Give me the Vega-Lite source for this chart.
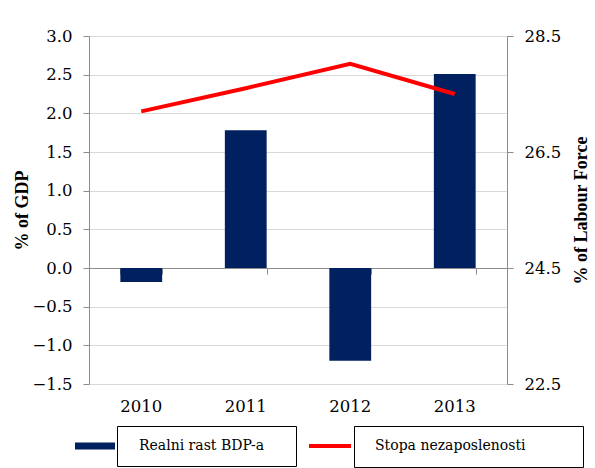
{
  "$schema": "https://vega.github.io/schema/vega-lite/v6.json",
  "width": 418,
  "height": 348,
  "autosize": {"type": "none"},
  "padding": {"left": 89, "top": 36, "right": 88, "bottom": 84},
  "background": "white",
  "config": {
    "view": {"stroke": null},
    "axis": {"labelColor": "#000", "titleColor": "#000"}
  },
  "data": {
    "values": [
      {"year": "2010", "gdp": -0.18, "unemp": 27.2},
      {"year": "2011", "gdp": 1.78, "unemp": 27.6},
      {"year": "2012", "gdp": -1.2, "unemp": 28.02},
      {"year": "2013", "gdp": 2.51, "unemp": 27.5}
    ]
  },
  "layer": [
    {
      "mark": {"type": "bar", "color": "#002060"},
      "encoding": {
        "x": {
          "field": "year", "type": "ordinal",
          "scale": {"paddingInner": 0.6, "paddingOuter": 0.3},
          "axis": {"title": null, "orient": "bottom", "domain": false, "ticks": false, "labelAngle": 0, "labelFont": "DejaVu Serif", "labelFontSize": 16.5, "labelPadding": 14, "grid": false}
        },
        "y": {
          "field": "gdp", "type": "quantitative",
          "scale": {"domain": [-1.5, 3.0], "nice": false, "zero": false},
          "axis": {
            "title": "% of GDP", "titleFont": "Liberation Serif", "titleFontSize": 18, "titleFontWeight": "bold", "titlePadding": 0,
            "values": [-1.5, -1.0, -0.5, 0, 0.5, 1.0, 1.5, 2.0, 2.5, 3.0], "format": ".1f",
            "labelFont": "DejaVu Serif", "labelFontSize": 16.5, "labelPadding": 11, "tickSize": 6,
            "domainColor": "#8c8c8c", "tickColor": "#8c8c8c", "gridColor": "#d9d9d9", "grid": true
          }
        },
        "fill": {
          "datum": "Realni rast BDP-a",
          "scale": {"range": ["#002060"]},
          "legend": {
            "title": "\u00a0", "titleOrient": "right", "titleFontSize": 1, "titlePadding": 19,
            "orient": "none", "legendX": 28, "legendY": 390,
            "strokeColor": "#000", "padding": 13,
            "symbolType": "M-4,-0.7H4V0.7H-4Z", "symbolSize": 100, "symbolOffset": -42,
            "labelFontSize": 14, "labelFont": "DejaVu Serif", "labelColor": "#000", "labelOffset": 37
          }
        }
      }
    },
    {
      "mark": {"type": "line", "color": "#ff0000", "strokeWidth": 4},
      "encoding": {
        "x": {
          "field": "year", "type": "ordinal",
          "axis": {"title": null, "orient": "bottom", "offset": -116, "labels": false, "domain": true, "domainColor": "#8c8c8c", "ticks": true, "tickBand": "extent", "tickSize": 6, "tickColor": "#8c8c8c", "grid": false}
        },
        "y": {
          "field": "unemp", "type": "quantitative",
          "scale": {"domain": [22.5, 28.5], "nice": false, "zero": false},
          "axis": {
            "orient": "right", "title": "% of Labour Force", "titleFont": "Liberation Serif", "titleFontSize": 18, "titleFontWeight": "bold", "titlePadding": 30, "titleAngle": 270,
            "values": [22.5, 24.5, 26.5, 28.5], "format": ".1f",
            "labelFont": "DejaVu Serif", "labelFontSize": 16.5, "labelPadding": 11, "tickSize": 6,
            "domainColor": "#8c8c8c", "tickColor": "#8c8c8c", "grid": false
          }
        },
        "stroke": {
          "datum": "Stopa nezaposlenosti",
          "scale": {"range": ["#ff0000"]},
          "legend": {
            "title": "\u00a0", "titleOrient": "right", "titleFontSize": 1, "titlePadding": 44,
            "orient": "none", "legendX": 265, "legendY": 390,
            "strokeColor": "#000", "padding": 13,
            "symbolType": "M-4.2,0H4.2", "symbolSize": 100, "symbolStrokeWidth": 4, "symbolOffset": -44,
            "labelFontSize": 14, "labelFont": "DejaVu Serif", "labelColor": "#000", "labelOffset": 38
          }
        }
      }
    }
  ],
  "resolve": {"scale": {"y": "independent", "fill": "independent", "stroke": "independent"}, "axis": {"x": "independent"}}
}
